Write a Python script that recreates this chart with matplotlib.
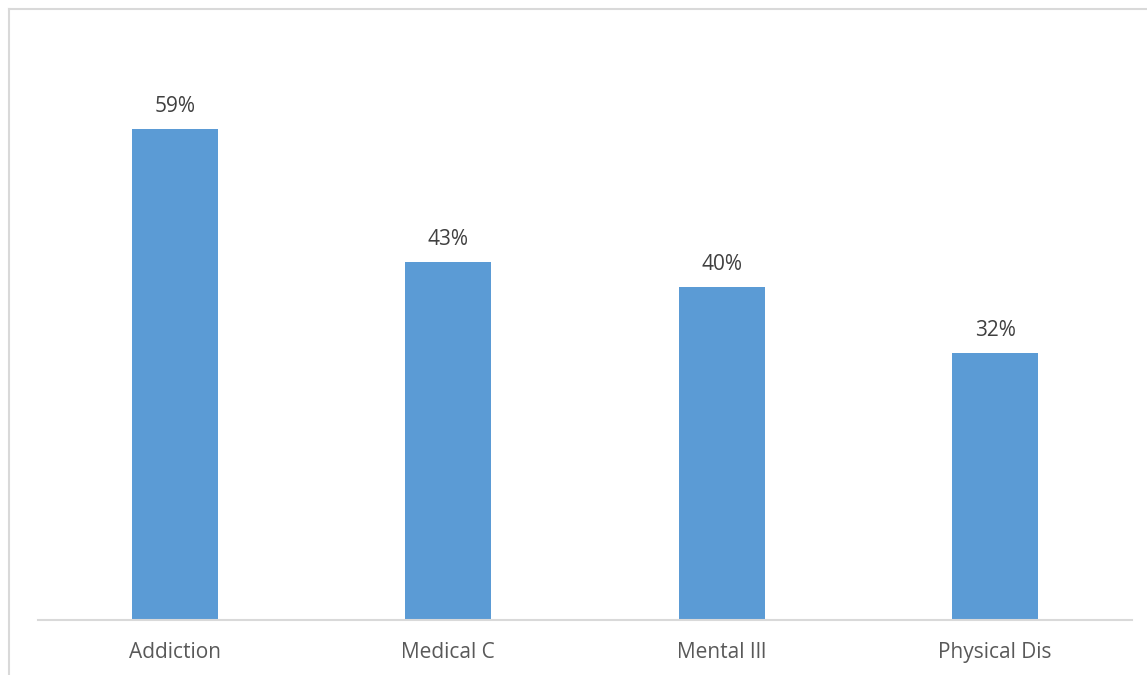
import matplotlib
matplotlib.use("Agg")
import matplotlib.pyplot as plt
from matplotlib.lines import Line2D

categories = ["Addiction", "Medical C", "Mental Ill", "Physical Dis"]
shares = [0.59, 0.43, 0.40, 0.32]
value_labels = ["59%", "43%", "40%", "32%"]

W, H = 1147, 675
fig = plt.figure(figsize=(W / 100, H / 100), dpi=100)
plt.rcParams['font.family'] = ['Open Sans', 'DejaVu Sans']

# chart border (runs off the right and bottom edges)
fig.add_artist(Line2D([9 / W, 9 / W], [0, 1 - 9 / H], color="#d9d9d9", lw=1.5, transform=fig.transFigure))
fig.add_artist(Line2D([9 / W, 1], [1 - 9 / H, 1 - 9 / H], color="#d9d9d9", lw=1.5, transform=fig.transFigure))

# plot area: x 38..1132 px, y 37..620 px
ax = fig.add_axes([38 / W, (H - 620) / H, (1132 - 38) / W, (620 - 37) / H])
x = range(len(categories))
ax.bar(x, shares, width=0.315, color="#5b9bd5")
for i, v in enumerate(shares):
    ax.text(i, v + 0.027, value_labels[i], ha="center", va="center", fontsize=15, color="#404040")

ax.set_xlim(-0.5, 3.5)
ax.set_ylim(0, 0.70)
ax.set_xticks(list(x))
ax.set_xticklabels(categories, fontsize=15, color="#595959")
ax.tick_params(axis="x", length=0, pad=16)
ax.set_yticks([])
for s in ["top", "right", "left"]:
    ax.spines[s].set_visible(False)
ax.spines["bottom"].set_color("#d9d9d9")
ax.spines["bottom"].set_linewidth(1.5)

fig.savefig("out.png", dpi=100)
